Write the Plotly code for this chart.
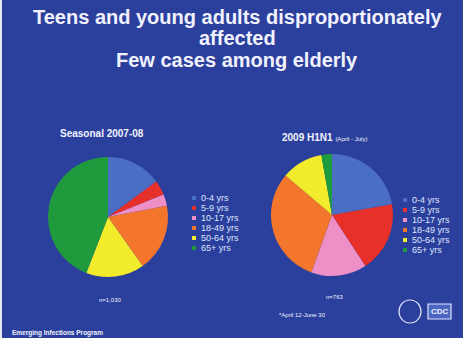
import plotly.graph_objects as go

W, H = 463, 338

age_labels = ["0-4 yrs", "5-9 yrs", "10-17 yrs", "18-49 yrs", "50-64 yrs", "65+ yrs"]
seasonal_values = [14.9, 4.0, 3.1, 18.2, 15.7, 44.1]
h1n1_values = [22.2, 18.6, 14.7, 30.7, 11.0, 2.8]
slice_colors = ["#4a6ec4", "#e8302a", "#ef8fc8", "#f4762c", "#f2ec2c", "#1f9a3c"]

BG = "#2b409c"
FONT = "Liberation Sans"


def px(x):
    return x / W


def py(y):
    return 1 - y / H


fig = go.Figure()

fig.add_trace(go.Pie(
    labels=age_labels, values=seasonal_values, sort=False, direction="clockwise",
    marker=dict(colors=slice_colors, line=dict(width=0)), textinfo="none",
    hoverinfo="label+percent", showlegend=False,
    domain=dict(x=[px(48), px(168)], y=[py(277), py(157)]),
))
fig.add_trace(go.Pie(
    labels=age_labels, values=h1n1_values, sort=False, direction="clockwise",
    marker=dict(colors=slice_colors, line=dict(width=0)), textinfo="none",
    hoverinfo="label+percent", showlegend=False,
    domain=dict(x=[px(271), px(393)], y=[py(276), py(154)]),
))

annotations = []
shapes = []


def text(x, y, s, size, bold=False, anchor="center", color="#f2f2ff"):
    annotations.append(dict(
        x=px(x), y=py(y), xref="paper", yref="paper", text=(f"<b>{s}</b>" if bold else s),
        showarrow=False, xanchor=anchor, yanchor="middle",
        font=dict(family=FONT, size=size, color=color),
    ))


# Title
text(237, 17, "Teens and young adults disproportionately", 20, bold=True)
text(237, 38, "affected", 20, bold=True)
text(237, 60, "Few cases among elderly", 20, bold=True)

# Subtitles
text(58, 133, "Seasonal 2007-08", 10, bold=True, anchor="left")
annotations.append(dict(
    x=px(280), y=py(137), xref="paper", yref="paper",
    text="<b>2009 H1N1</b> <span style='font-size:6px'>(April - July)</span>",
    showarrow=False, xanchor="left", yanchor="middle",
    font=dict(family=FONT, size=10, color="#f2f2ff"),
))

# Sample sizes and footnotes
text(110, 300, "n=1,030", 6)
text(335, 297, "n=763", 6)
text(277, 315, "*April 12-June 30", 6, anchor="left")
text(10, 333, "Emerging Infections Program", 6.5, bold=True, anchor="left")


# Legends
def legend(x0, y0, step):
    for i, (lab, col) in enumerate(zip(age_labels, slice_colors)):
        y = y0 + i * step
        shapes.append(dict(type="rect", xref="paper", yref="paper",
                           x0=px(x0), x1=px(x0 + 4), y0=py(y + 2), y1=py(y - 2),
                           fillcolor=col, line=dict(width=0)))
        text(x0 + 7, y, lab, 9, anchor="left", color="#dfe4ff")


legend(192, 198, 10)
legend(403, 200, 10)

# White left strip
shapes.append(dict(type="rect", xref="paper", yref="paper", x0=0, x1=px(2), y0=0, y1=1,
                   fillcolor="#e6e8f2", line=dict(width=0), layer="above"))

# Logos (HHS circle + CDC box)
shapes.append(dict(type="circle", xref="paper", yref="paper",
                   x0=px(399), x1=px(421), y0=py(323), y1=py(300),
                   line=dict(color="#dfe4ff", width=1.2)))
shapes.append(dict(type="rect", xref="paper", yref="paper",
                   x0=px(428), x1=px(451), y0=py(319), y1=py(304),
                   fillcolor="#4a66c0", line=dict(color="#dfe4ff", width=1.2)))
text(439.5, 311.5, "CDC", 8, bold=True, color="#eef0ff")

fig.update_layout(
    width=W, height=H, margin=dict(l=0, r=0, t=0, b=0),
    paper_bgcolor=BG, plot_bgcolor=BG,
    annotations=annotations, shapes=shapes,
    showlegend=False,
)

fig.write_html("out.html")
